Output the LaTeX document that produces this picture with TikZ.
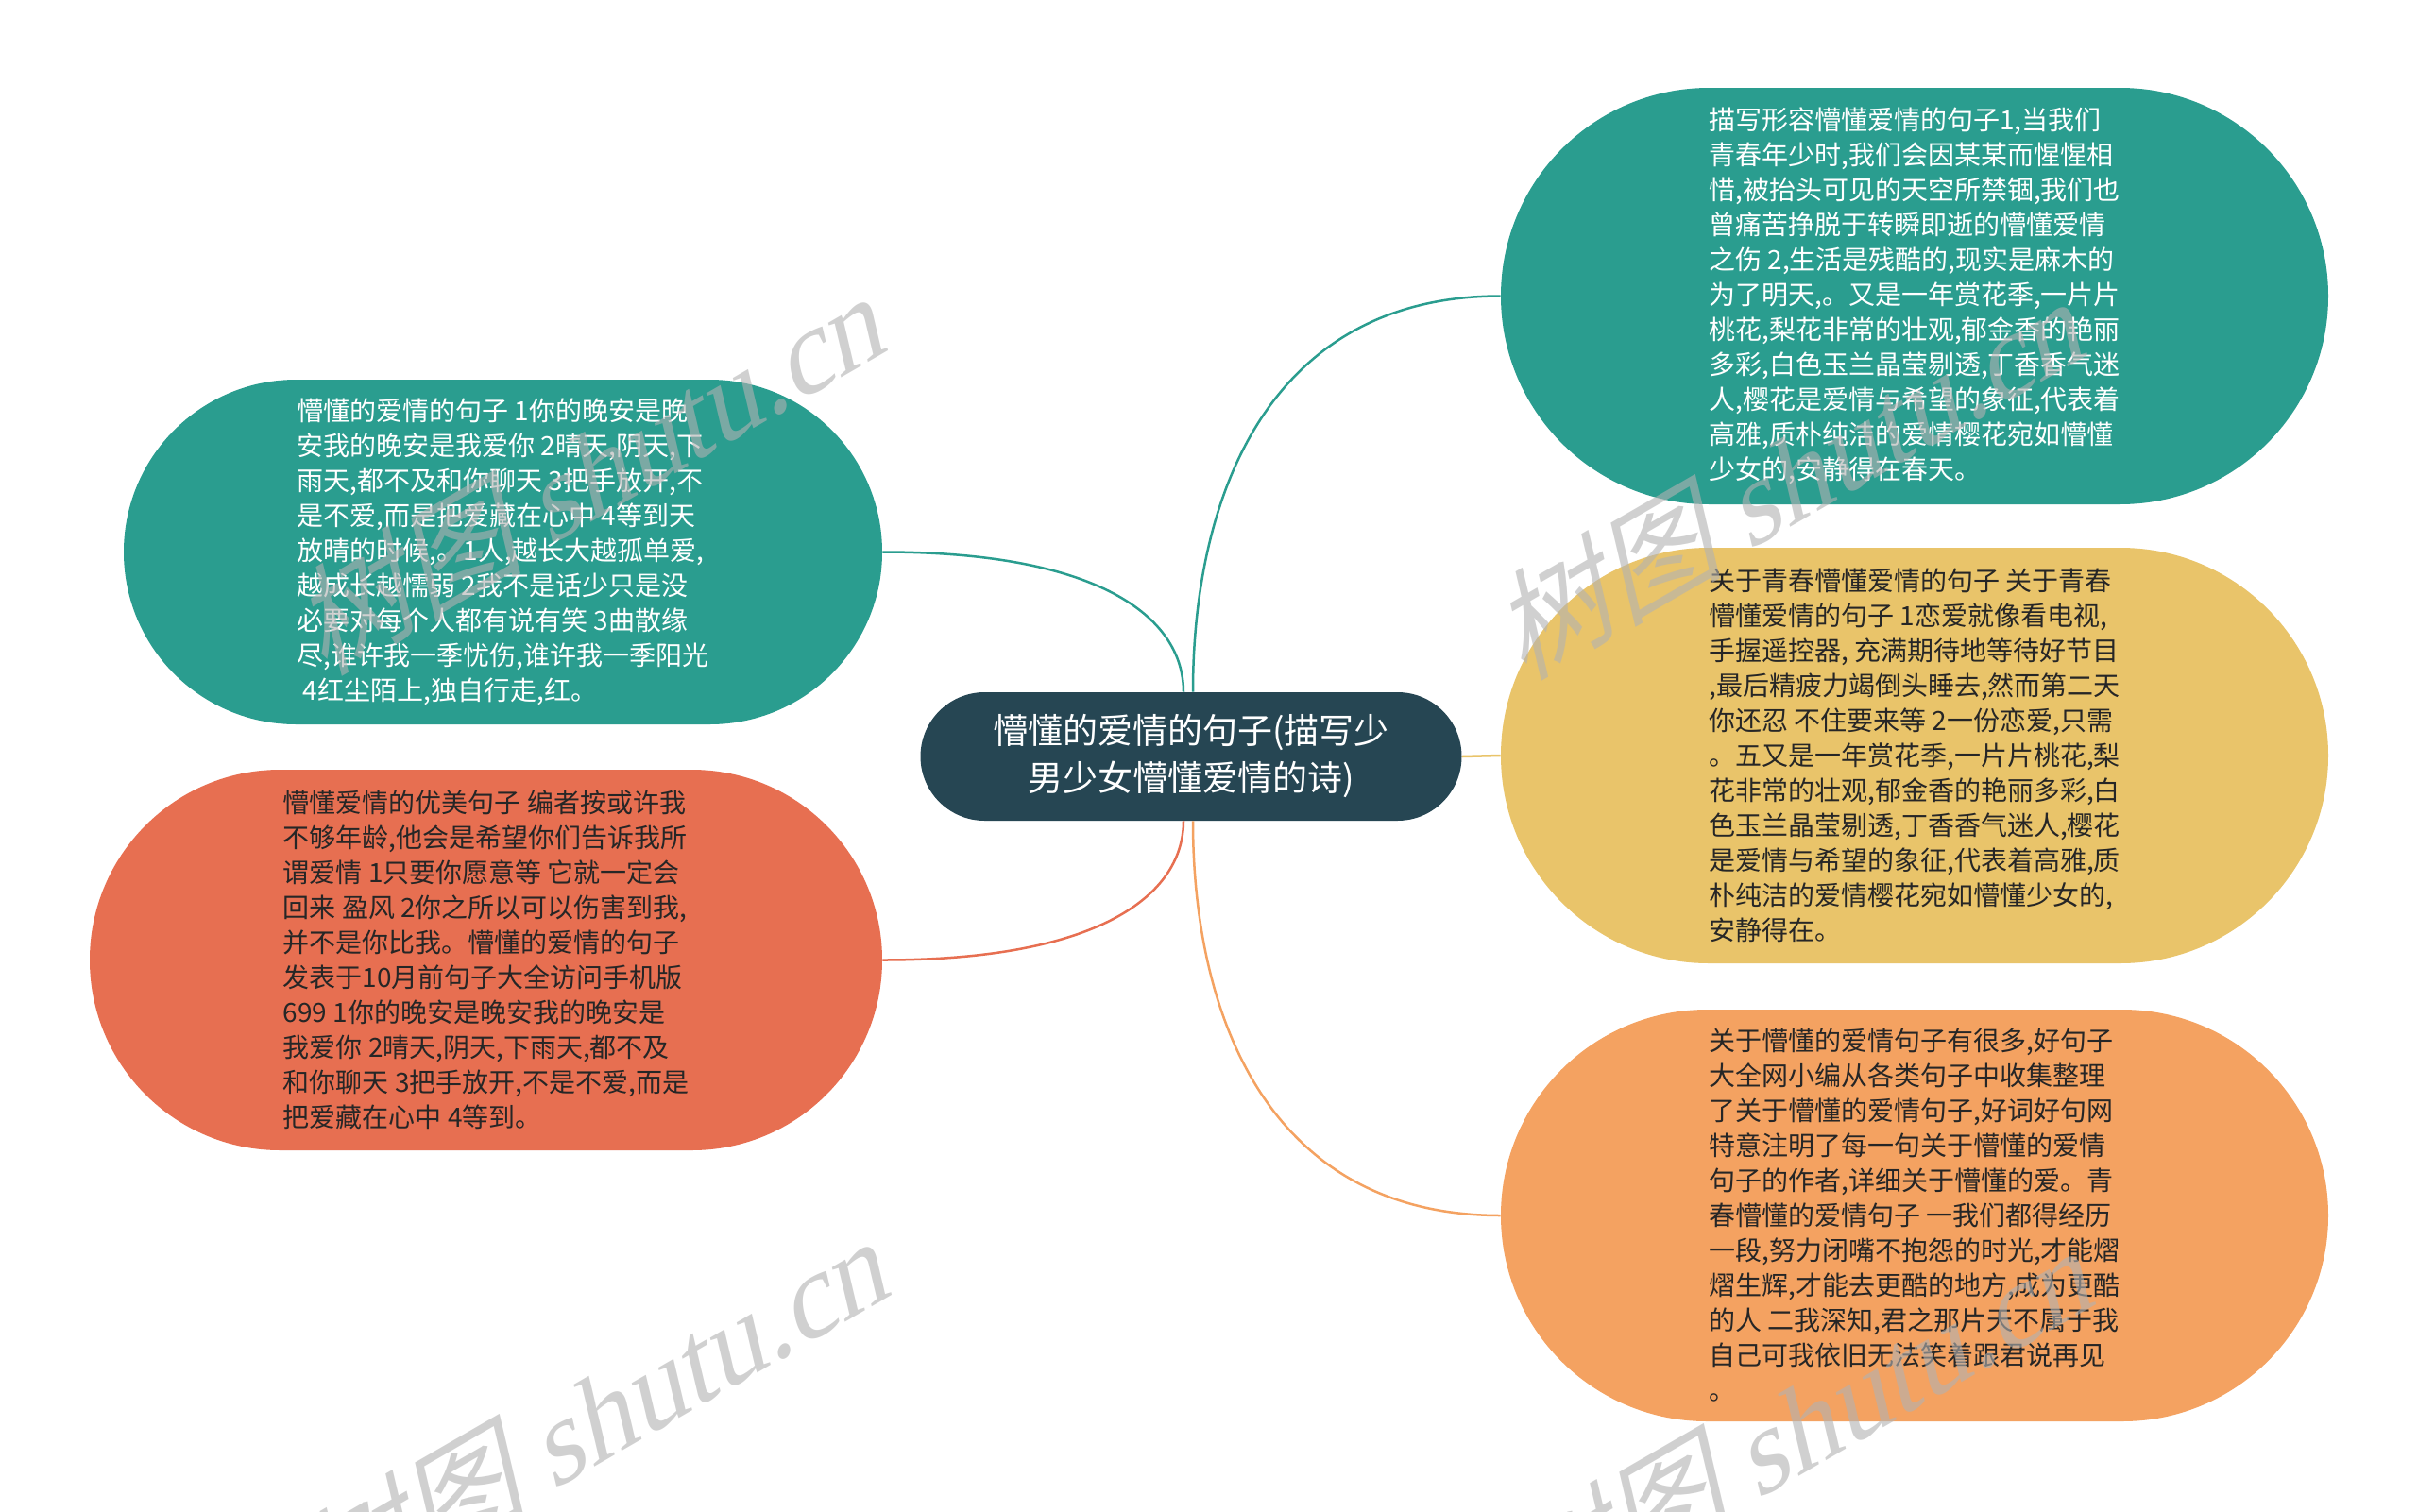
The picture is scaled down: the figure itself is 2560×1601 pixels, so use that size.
\documentclass[tikz,border=0pt]{standalone}
\usepackage{fontspec}
\setmainfont{Noto Sans CJK SC}
\newfontfamily\wmlatin{Liberation Serif}
\usetikzlibrary{shapes.misc,calc}
\definecolor{cteal}{HTML}{2A9D8F}
\definecolor{cdark}{HTML}{264653}
\definecolor{cyel}{HTML}{E9C46A}
\definecolor{corg}{HTML}{F4A261}
\definecolor{cred}{HTML}{E76F51}
\definecolor{ctxt}{HTML}{262626}
\begin{document}
\begin{tikzpicture}[x=0.5pt,y=-0.5pt,
  leaf/.style={rounded rectangle, inner sep=0pt, align=left,
    font={\fontsize{14pt}{18.5pt}\selectfont}},
  root/.style={rounded rectangle, inner sep=0pt, align=center, fill=cdark, text=white,
    minimum width=286.5pt, minimum height=68pt,
    font={\fontsize{18.5pt}{25pt}\selectfont}},
  edge/.style={line width=1.25pt},
  wm/.style={anchor=base east, rotate=30, xslant=0.3, inner sep=0pt,
    text=gray!60, text opacity=0.6, font={\fontsize{62pt}{62pt}\selectfont}}]
\useasboundingbox[fill=white] (0,0) rectangle (2560,1601);

\node[root] (c) at (1261,801) {懵懂的爱情的句子(描写少\\男少女懵懂爱情的诗)};

\node[leaf, fill=cteal, text=white, minimum width=438pt, minimum height=220.5pt] (tr) at (2027,313.5) {描写形容懵懂爱情的句子1,当我们\\青春年少时,我们会因某某而惺惺相\\惜,被抬头可见的天空所禁锢,我们也\\曾痛苦挣脱于转瞬即逝的懵懂爱情\\之伤 2,生活是残酷的,现实是麻木的\\为了明天,。又是一年赏花季,一片片\\桃花,梨花非常的壮观,郁金香的艳丽\\多彩,白色玉兰晶莹剔透,丁香香气迷\\人,樱花是爱情与希望的象征,代表着\\高雅,质朴纯洁的爱情樱花宛如懵懂\\少女的,安静得在春天。};

\node[leaf, fill=cyel, text=ctxt, minimum width=438pt, minimum height=220pt] (yl) at (2027,800) {关于青春懵懂爱情的句子 关于青春\\懵懂爱情的句子 1恋爱就像看电视,\\手握遥控器, 充满期待地等待好节目\\,最后精疲力竭倒头睡去,然而第二天\\你还忍 不住要来等 2一份恋爱,只需\\。五又是一年赏花季,一片片桃花,梨\\花非常的壮观,郁金香的艳丽多彩,白\\色玉兰晶莹剔透,丁香香气迷人,樱花\\是爱情与希望的象征,代表着高雅,质\\朴纯洁的爱情樱花宛如懵懂少女的,\\安静得在。};

\node[leaf, fill=corg, text=ctxt, minimum width=438pt, minimum height=218pt] (or) at (2027,1287) {关于懵懂的爱情句子有很多,好句子\\大全网小编从各类句子中收集整理\\了关于懵懂的爱情句子,好词好句网\\特意注明了每一句关于懵懂的爱情\\句子的作者,详细关于懵懂的爱。青\\春懵懂的爱情句子 一我们都得经历\\一段,努力闭嘴不抱怨的时光,才能熠\\熠生辉,才能去更酷的地方,成为更酷\\的人 二我深知,君之那片天不属于我\\自己可我依旧无法笑着跟君说再见\\。};

\node[leaf, fill=cteal, text=white, minimum width=401.5pt, minimum height=182.5pt] (lt) at (532.5,584.5) {懵懂的爱情的句子 1你的晚安是晚\\安我的晚安是我爱你 2晴天,阴天,下\\雨天,都不及和你聊天 3把手放开,不\\是不爱,而是把爱藏在心中 4等到天\\放晴的时候,。1人,越长大越孤单爱,\\越成长越懦弱 2我不是话少只是没\\必要对每个人都有说有笑 3曲散缘\\尽,谁许我一季忧伤,谁许我一季阳光\\\ 4红尘陌上,独自行走,红。};

\node[leaf, fill=cred, text=ctxt, minimum width=419.5pt, minimum height=201.5pt] (lr) at (514.5,1016.5) {懵懂爱情的优美句子 编者按或许我\\不够年龄,他会是希望你们告诉我所\\谓爱情 1只要你愿意等 它就一定会\\回来 盈风 2你之所以可以伤害到我,\\并不是你比我。懵懂的爱情的句子\\发表于10月前句子大全访问手机版\\699 1你的晚安是晚安我的晚安是\\我爱你 2晴天,阴天,下雨天,都不及\\和你聊天 3把手放开,不是不爱,而是\\把爱藏在心中 4等到。};

\coordinate (cnl) at ($(c.north)+(-8,0)$);
\coordinate (cnr) at ($(c.north)+(2,0)$);
\coordinate (csl) at ($(c.south)+(-8,0)$);
\coordinate (csr) at ($(c.south)+(2,0)$);

\draw[edge, cteal] (cnr) .. controls ($(cnr)!0.5!(cnr|-tr.west)$) and ($(cnr|-tr.west)!0.25!(tr.west)$) .. (tr.west);
\draw[edge, cyel] (c.east) -- (yl.west);
\draw[edge, corg] (csr) .. controls ($(csr)!0.5!(csr|-or.west)$) and ($(csr|-or.west)!0.25!(or.west)$) .. (or.west);
\draw[edge, cteal] (cnl) .. controls ($(cnl)!0.5!(cnl|-lt.east)$) and ($(cnl|-lt.east)!0.25!(lt.east)$) .. (lt.east);
\draw[edge, cred] (csl) .. controls ($(csl)!0.5!(csl|-lr.east)$) and ($(csl|-lr.east)!0.25!(lr.east)$) .. (lr.east);

\node[wm] (w1) at (943,370) {树图 {\wmlatin shutu.cn}};
\node[wm] (w2) at (947,1370) {树图 {\wmlatin shutu.cn}};
\node[wm] (w3) at (2213,375) {树图 {\wmlatin shutu.cn}};
\node[wm] (w4) at (2222,1380) {树图 {\wmlatin shutu.cn}};
\end{tikzpicture}
\end{document}
